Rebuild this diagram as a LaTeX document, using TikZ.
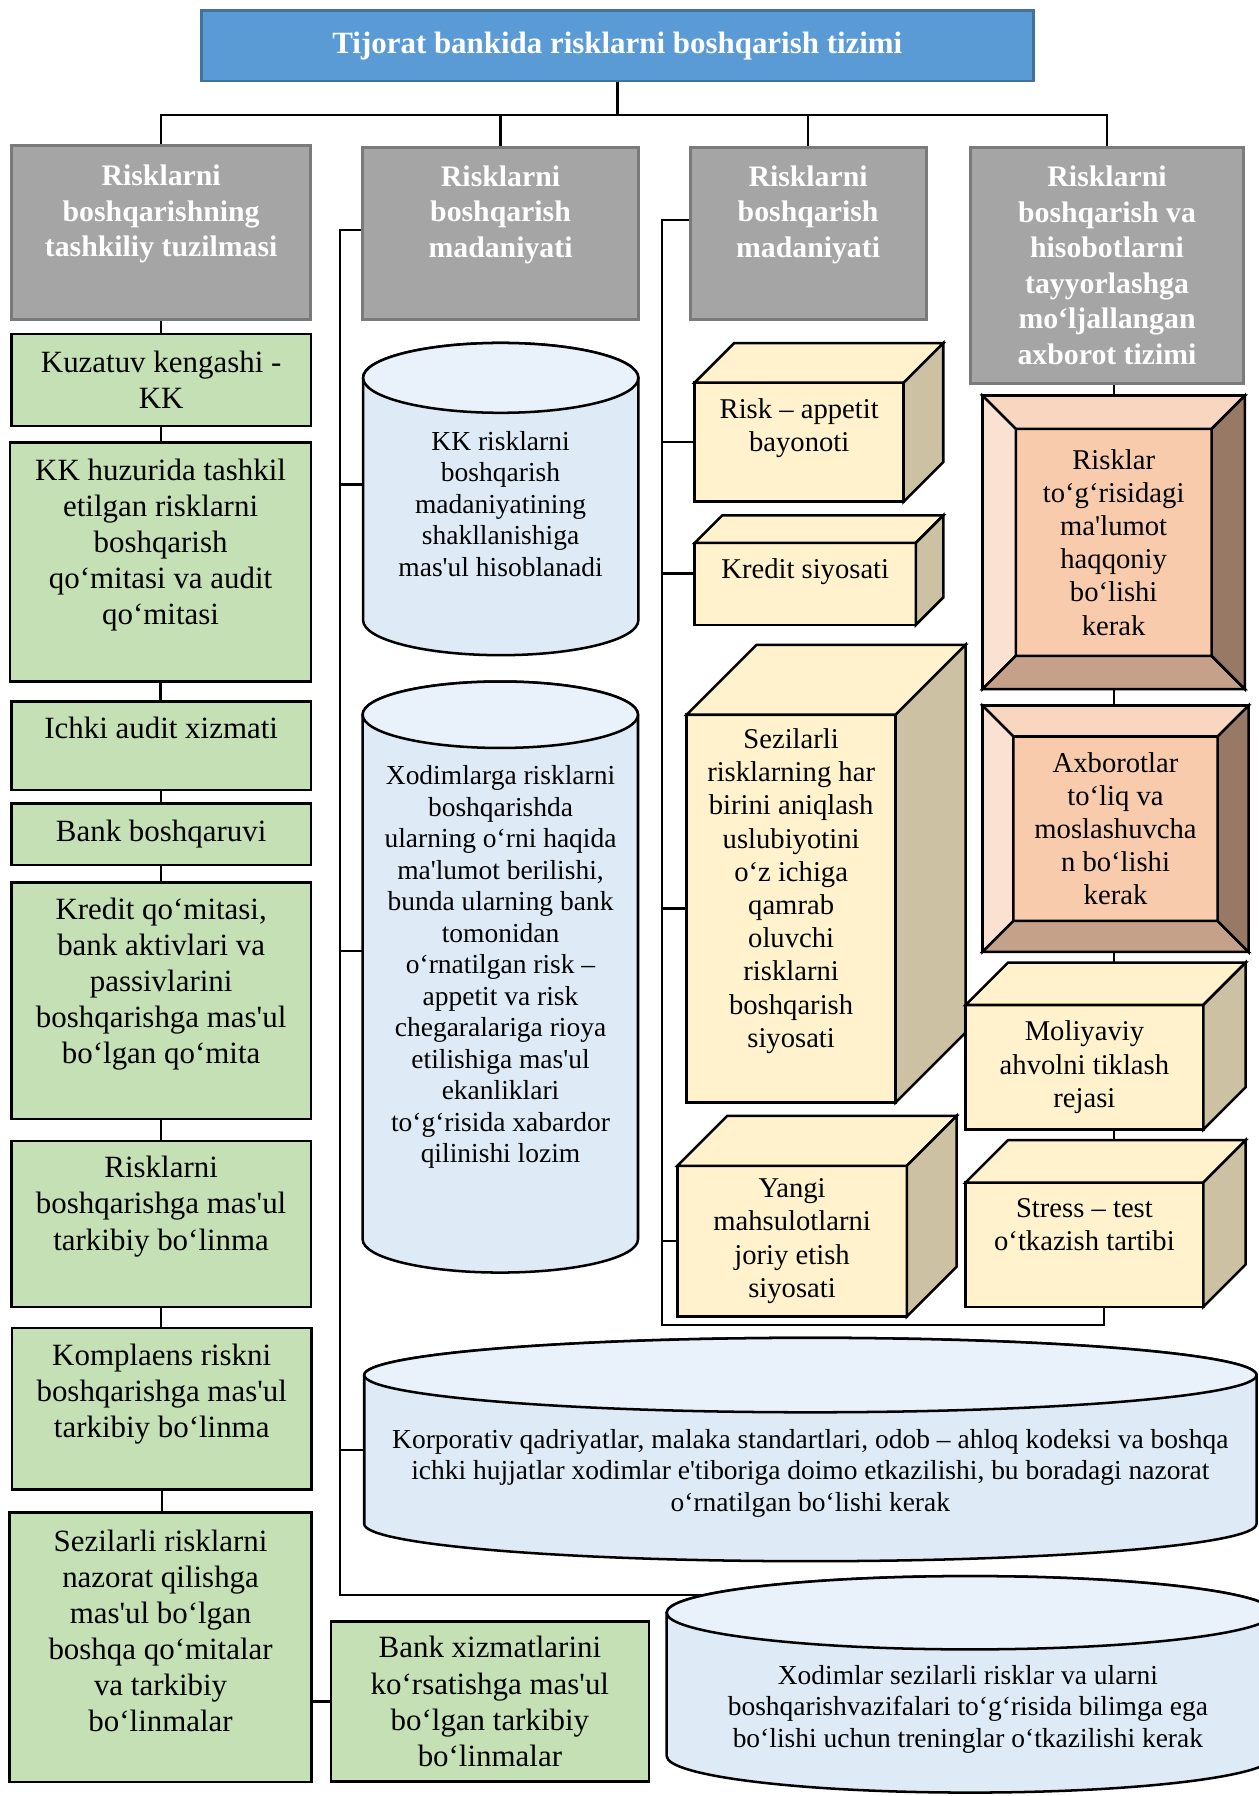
\documentclass[tikz,border=0pt]{standalone}
\usepackage{fontspec}
\setmainfont[Ligatures=TeXOff]{Liberation Serif}
\usetikzlibrary{backgrounds}

\definecolor{hdrblue}{HTML}{5B9BD5}
\definecolor{hdredge}{HTML}{41719C}
\definecolor{grpfill}{HTML}{A5A5A5}
\definecolor{grpedge}{HTML}{7A7A7A}
\definecolor{unitfill}{HTML}{C5E0B4}
\definecolor{cubefront}{HTML}{FFF2CC}
\definecolor{cubeside}{HTML}{CCC2A3}
\definecolor{cylbody}{HTML}{DEEBF7}
\definecolor{cyltop}{HTML}{E9F1FA}
\definecolor{bevface}{HTML}{F8CBAD}
\definecolor{bevtop}{HTML}{F9D6C0}
\definecolor{bevleft}{HTML}{FBE1D2}
\definecolor{bevbot}{HTML}{C5A18A}
\definecolor{bevright}{HTML}{977966}

% cara superior y lateral del cubo sobre el nodo frontal
\newcommand{\cubo}[2]{%
    \filldraw[linea,fill=cubefront] (#1.north west) -- ([shift={(#2,-#2)}]#1.north west)
        -- ([shift={(#2,-#2)}]#1.north east) -- (#1.north east) -- cycle;
    \filldraw[linea,fill=cubeside] (#1.north east) -- ([shift={(#2,-#2)}]#1.north east)
        -- ([shift={(#2,-#2)}]#1.south east) -- (#1.south east) -- cycle;
}
% marco biselado alrededor del nodo
\newcommand{\bisel}[2]{%
    \filldraw[linea,fill=bevtop] (#1.north west) -- (#1.north east)
        -- ([shift={(-#2,#2)}]#1.north east) -- ([shift={(#2,#2)}]#1.north west) -- cycle;
    \filldraw[linea,fill=bevleft] (#1.north west) -- ([shift={(#2,#2)}]#1.north west)
        -- ([shift={(#2,-#2)}]#1.south west) -- (#1.south west) -- cycle;
    \filldraw[linea,fill=bevbot] (#1.south west) -- ([shift={(#2,-#2)}]#1.south west)
        -- ([shift={(-#2,-#2)}]#1.south east) -- (#1.south east) -- cycle;
    \filldraw[linea,fill=bevright] (#1.south east) -- ([shift={(-#2,-#2)}]#1.south east)
        -- ([shift={(-#2,#2)}]#1.north east) -- (#1.north east) -- cycle;
}
% cilindro: x1, x2, arriba, abajo, radio vertical
\newcommand{\tambor}[5]{%
    \pgfmathsetmacro\tamrx{(#2-#1)/2}%
    \filldraw[linea,fill=cylbody] (#1,#3+#5) -- (#1,#4-#5)
        arc[start angle=180,end angle=0,x radius=\tamrx,y radius=#5] -- (#2,#3+#5)
        arc[start angle=0,end angle=-180,x radius=\tamrx,y radius=#5] -- cycle;
    \filldraw[linea,fill=cyltop] ({(#1+#2)/2},#3+#5) ellipse[x radius=\tamrx,y radius=#5];
}

\begin{document}
\begin{tikzpicture}[x=1pt,y=-1pt,
    every node/.style={align=center,inner sep=0pt,outer sep=0pt},
    linea/.style={line width=2.2pt},
    conn/.style={line width=2pt},
    dim/.style 2 args={minimum width=#1pt,minimum height=#2pt},
    lift/.style={text depth=#1pt},
    hdr/.style={linea,fill=hdrblue,draw=hdredge,line width=2.5pt,text=white,
        font=\bfseries\fontsize{27}{31}\selectfont},
    grp/.style={fill=grpfill,draw=grpedge,line width=2.5pt,text=white,
        font=\bfseries\fontsize{26}{31}\selectfont},
    unit/.style={linea,fill=unitfill,draw,font=\fontsize{27}{31.5}\selectfont},
    front/.style={linea,fill=cubefront,draw,font=\fontsize{25}{29}\selectfont},
    bev/.style={linea,fill=bevface,draw,font=\fontsize{25}{29}\selectfont},
    drumtxt/.style={font=\fontsize{24}{27.5}\selectfont}]
    \useasboundingbox (0,0) rectangle (1099,1568);

    % Titulo y las cuatro ramas
    \node[hdr,dim={726}{61.4}] (title) at (539,40) {Tijorat bankida risklarni boshqarish tizimi};
    \node[grp,dim={260.7}{151.3},lift=38] (g1) at (140.7,203) {Risklarni\\boshqarishning\\tashkiliy tuzilmasi};
    \node[grp,dim={240.6}{149.7},lift=39] (g2) at (437,203.9) {Risklarni\\boshqarish\\madaniyati};
    \node[grp,dim={206}{149.7},lift=39] (g3) at (705.5,203.9) {Risklarni\\boshqarish\\madaniyati};
    \node[grp,dim={237.9}{205.6}] (g4) at (966.5,231.8) {Risklarni\\boshqarish va\\hisobotlarni\\tayyorlashga\\mo‘ljallangan\\axborot tizimi};

    % Columna izquierda
    \node[unit,dim={261.5}{80.2}] (k1) at (140.7,331.8) {Kuzatuv kengashi -\\KK};
    \node[unit,dim={262.6}{208.6},lift=36] (k2) at (140.2,490.7) {KK huzurida tashkil\\etilgan risklarni\\boshqarish\\qo‘mitasi va audit\\qo‘mitasi};
    \node[unit,dim={261.5}{77.1},lift=31] (k3) at (140.7,651) {Ichki audit xizmati};
    \node[unit,dim={261.5}{53.6}] (k4) at (140.7,728.2) {Bank boshqaruvi};
    \node[unit,dim={261.5}{206.5},lift=35] (k5) at (140.7,873.5) {Kredit qo‘mitasi,\\bank aktivlari va\\passivlarini\\boshqarishga mas'ul\\bo‘lgan qo‘mita};
    \node[unit,dim={261.5}{145},lift=36] (k6) at (140.7,1068.5) {Risklarni\\boshqarishga mas'ul\\tarkibiy bo‘linma};
    \node[unit,dim={261.5}{141.2},lift=32] (k7) at (141.2,1230) {Komplaens riskni\\boshqarishga mas'ul\\tarkibiy bo‘linma};
    \node[unit,dim={263.6}{235.1},lift=29] (k8) at (140.2,1438) {Sezilarli risklarni\\nazorat qilishga\\mas'ul bo‘lgan\\boshqa qo‘mitalar\\va tarkibiy\\bo‘linmalar};
    \node[unit,dim={277.6}{139.9}] (k9) at (427.7,1485.5) {Bank xizmatlarini\\ko‘rsatishga mas'ul\\bo‘lgan tarkibiy\\bo‘linmalar};

    % Cilindros de la cultura de riesgos
    \tambor{317}{557.3}{299.4}{572}{30.5}
    \node[drumtxt,minimum width=240.3pt] (c1) at (437,440) {KK risklarni\\boshqarish\\madaniyatining\\shakllanishiga\\mas'ul hisoblanadi};
    \tambor{316.6}{557}{595}{1111}{29}
    \node[drumtxt,minimum width=240.4pt] (c2) at (437,844.5) {Xodimlarga risklarni\\boshqarishda\\ularning o‘rni haqida\\ma'lumot berilishi,\\bunda ularning bank\\tomonidan\\o‘rnatilgan risk –\\appetit va risk\\chegaralariga rioya\\etilishiga mas'ul\\ekanliklari\\to‘g‘risida xabardor\\qilinishi lozim};
    \tambor{318}{1097}{1168}{1363}{32.5}
    \node[drumtxt,minimum width=779pt] (c3) at (707.5,1286) {Korporativ qadriyatlar, malaka standartlari, odob – ahloq kodeksi va boshqa\\ichki hujjatlar xodimlar e'tiboriga doimo etkazilishi, bu boradagi nazorat\\o‘rnatilgan bo‘lishi kerak};
    \tambor{582}{1112}{1376}{1565}{32}
    \node[drumtxt,minimum width=530pt] (c4) at (845,1492) {Xodimlar sezilarli risklar va ularni\\boshqarishvazifalari to‘g‘risida bilimga ega\\bo‘lishi uchun treninglar o‘tkazilishi kerak};

    % Cubos de politicas
    \node[front,dim={182.5}{104},lift=30] (ra) at (697.75,386) {Risk – appetit\\bayonoti};
    \cubo{ra}{34.5}
    \node[front,dim={193.1}{71.6},lift=27.5] (ks) at (703,509.8) {Kredit siyosati};
    \cubo{ks}{24}
    \node[front,dim={182.6}{338.5},lift=36] (sz) at (690.7,793.25) {Sezilarli\\risklarning har\\birini aniqlash\\uslubiyotini\\o‘z ichiga\\qamrab\\oluvchi\\risklarni\\boshqarish\\siyosati};
    \cubo{sz}{61}
    \node[front,dim={200.3}{131.6}] (ym) at (691.5,1083.6) {Yangi\\mahsulotlarni\\joriy etish\\siyosati};
    \cubo{ym}{43.5}
    \node[front,dim={207.5}{108.8}] (ml) at (946.75,931.8) {Moliyaviy\\ahvolni tiklash\\rejasi};
    \cubo{ml}{37}
    \node[front,dim={207.5}{108.6},lift=35] (st) at (946.75,1086.7) {Stress – test\\o‘tkazish tartibi};
    \cubo{st}{37}

    % Marcos biselados
    \node[bev,dim={229}{256.2}] (r1) at (972.3,473.5) {Risklar\\to‘g‘risidagi\\ma'lumot\\haqqoniy\\bo‘lishi\\kerak};
    \bisel{r1}{29}
    \node[bev,dim={232.2}{215}] (ax) at (973.9,723.5) {Axborotlar\\to‘liq va\\moslashuvcha\\n bo‘lishi\\kerak};
    \bisel{ax}{27}

    % Conectores por debajo de las figuras
    \begin{scope}[on background layer]
        \fill[white] (0,0) rectangle (1099,1568);
        \coordinate (bus) at (539,100.4);
        \coordinate (v2) at (297,200.8);
        \coordinate (v2b) at (297,1392.3);
        \coordinate (v3) at (577.7,192);
        \coordinate (v3b) at (577.7,1157);
        \draw[conn] (title.south) -- (bus);
        \draw[conn] (g1.north) |- (bus) -| (g4.north);
        \draw[conn] (g2.north) -- (g2.north |- bus);
        \draw[conn] (g3.north) -- (g3.north |- bus);
        \foreach \a/\b in {g1/k1,k1/k2,k2/k3,k3/k4,k4/k5,k5/k6,k6/k7,k7/k8} {
            \draw[conn] (\a.south) -- (\a.south |- \b.north);
        }
        \draw[conn] (k9.west -| k8.east) -- (k9.west);
        \draw[conn] (g2.west |- v2) -- (v2) -- (v2b) -- (v2b -| c4);
        \draw[conn] ([yshift=17pt]c1.west) -- ([yshift=17pt]c1.west -| v2);
        \draw[conn] ([yshift=14pt]c2.west) -- ([yshift=14pt]c2.west -| v2);
        \draw[conn] ([yshift=20pt]c3.west) -- ([yshift=20pt]c3.west -| v2);
        \draw[conn] (g3.west |- v3) -- (v3) -- (v3b) -| ([xshift=17pt]st.south);
        \foreach \n/\s in {ra/0,ks/9,sz/0,ym/0} {
            \draw[conn] ([yshift=\s pt]\n.west) -- ([yshift=\s pt]\n.west -| v3);
        }
        \foreach \a/\b in {g4/r1,r1/ax,ax/ml,ml/st} {
            \draw[conn] (\a.south -| r1.north) -- (\b.north -| r1.north);
        }
    \end{scope}
\end{tikzpicture}
\end{document}
